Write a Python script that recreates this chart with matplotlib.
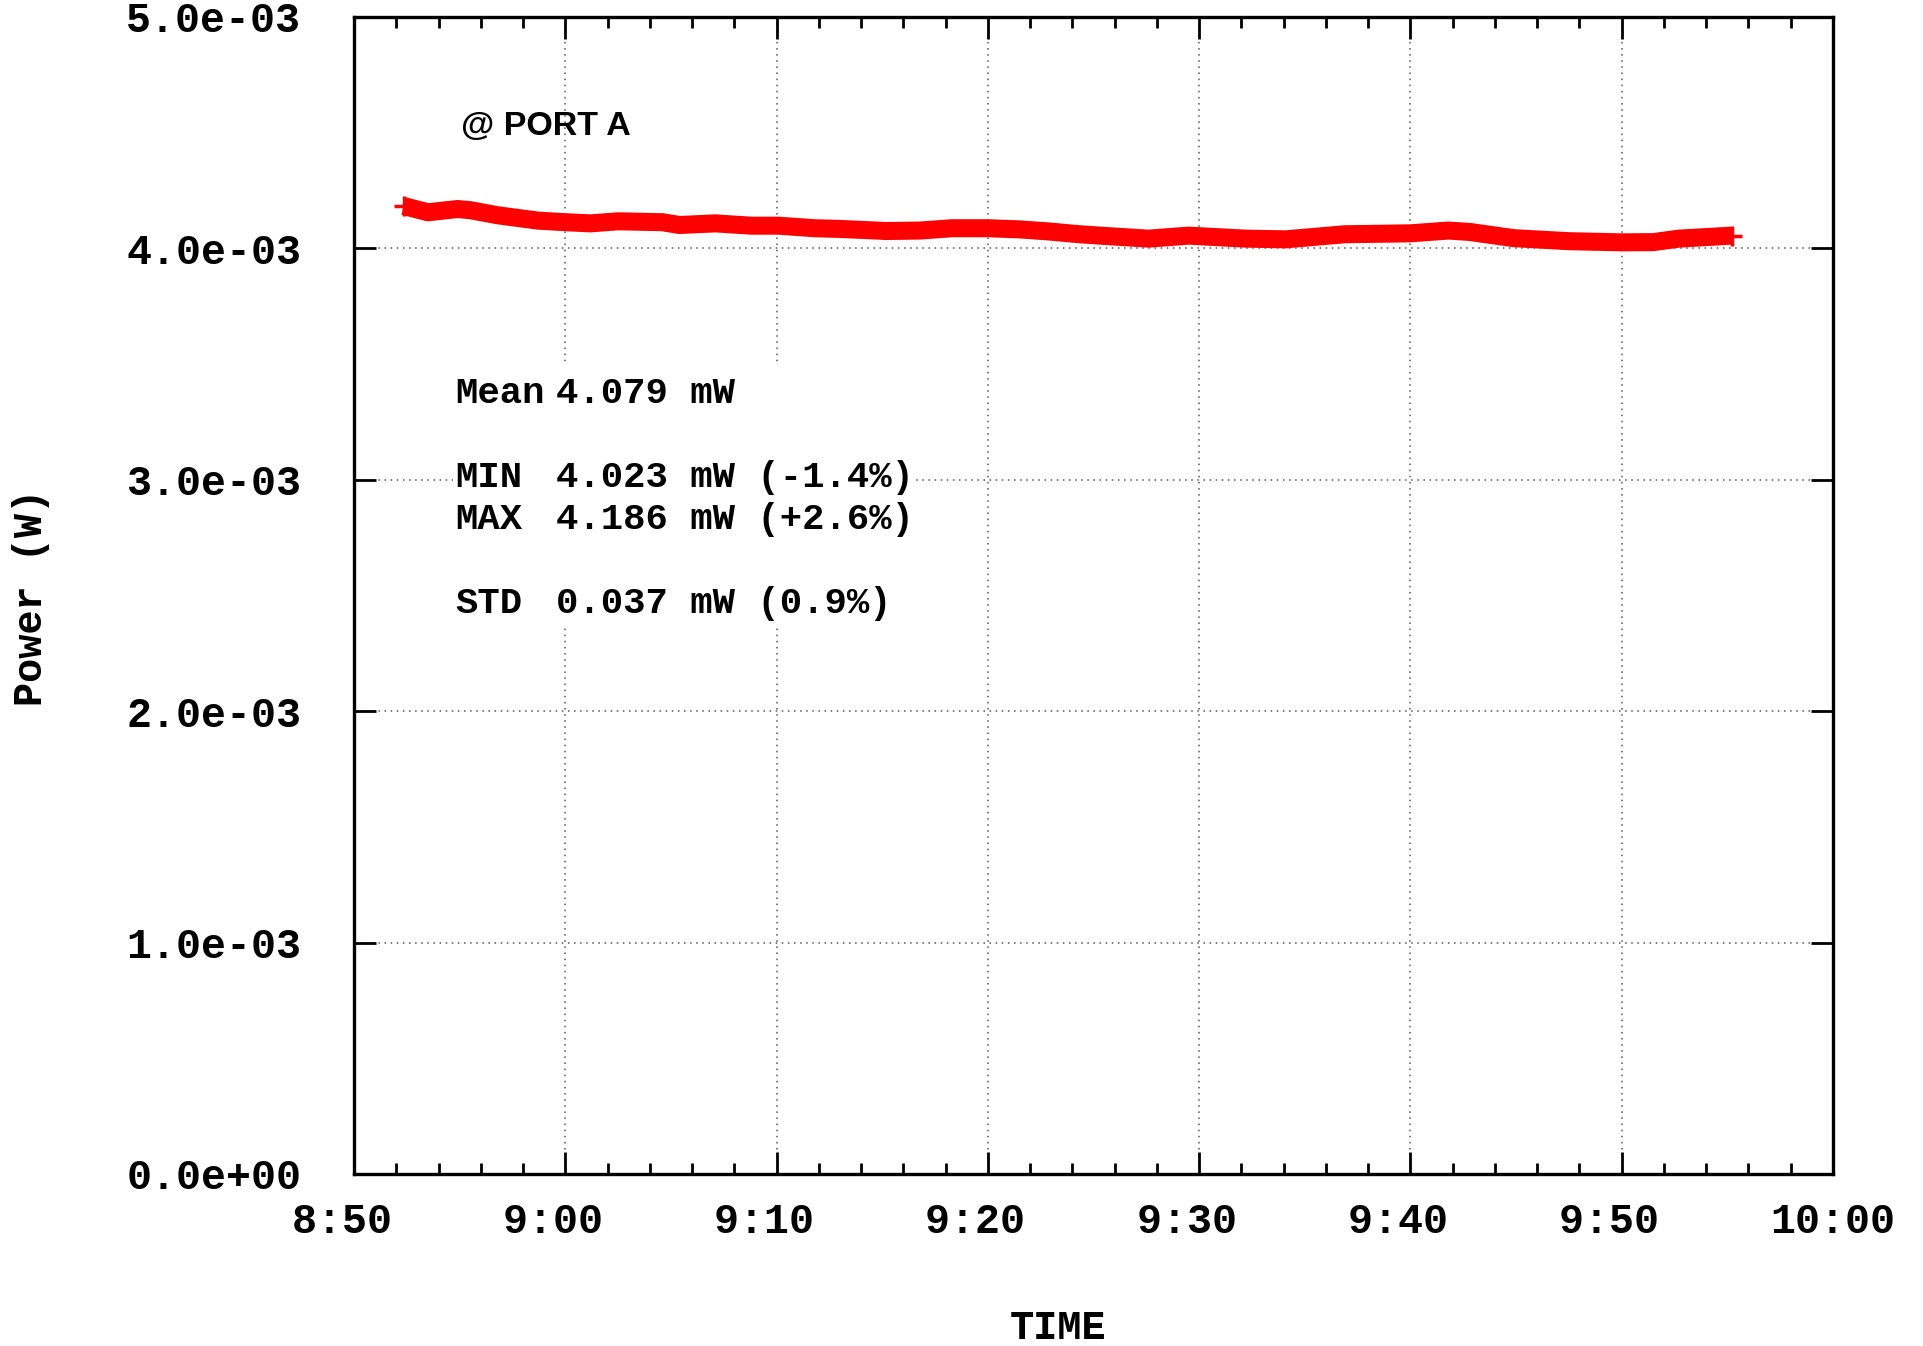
import matplotlib
matplotlib.use("Agg")
import matplotlib.pyplot as plt
from matplotlib.ticker import MultipleLocator, FuncFormatter
from matplotlib.patches import Rectangle

# minutes after midnight, power in mW
t_min = [532.35, 533.5, 534.9, 535.5, 536.8, 538.7, 540.0, 541.2, 542.5, 544.6,
         545.4, 547.1, 548.8, 550.1, 551.8, 553.0, 555.2, 556.8, 558.3, 560.0,
         561.5, 562.9, 564.2, 565.3, 567.6, 569.5, 572.2, 574.1, 576.9, 580.0,
         581.8, 582.8, 584.9, 587.5, 590.0, 591.5, 592.7, 595.2]
power_mw = [4.183, 4.156, 4.170, 4.165, 4.143, 4.120, 4.113, 4.108, 4.117, 4.113,
            4.101, 4.108, 4.098, 4.098, 4.087, 4.084, 4.075, 4.077, 4.087, 4.087,
            4.082, 4.073, 4.062, 4.055, 4.042, 4.055, 4.042, 4.039, 4.061, 4.065,
            4.077, 4.071, 4.044, 4.031, 4.026, 4.027, 4.042, 4.055]

stat_names = "Mean\n\nMIN\nMAX\n\nSTD"
stat_values = "4.079 mW\n\n4.023 mW (-1.4%)\n4.186 mW (+2.6%)\n\n0.037 mW (0.9%)"
port_label = "@ PORT A"

mono = "Liberation Mono"

fig = plt.figure(figsize=(19.23, 13.46), dpi=100)
ax = fig.add_axes([0.1841, 0.1278, 0.7691, 0.8596])
ax.set_axisbelow(True)

ax.plot(t_min, [p * 1e-3 for p in power_mw], color="#ff0000", lw=13,
        solid_capstyle="butt", solid_joinstyle="round",
        marker="+", markevery=[0, len(t_min) - 1], ms=14, mew=2.5, zorder=3)

ax.set_xlim(530, 600)
ax.set_ylim(0, 5e-3)
ax.xaxis.set_major_locator(MultipleLocator(10))
ax.xaxis.set_minor_locator(MultipleLocator(2))
ax.yaxis.set_major_locator(MultipleLocator(1e-3))
# labels padded to 5 characters like the original time format
ax.xaxis.set_major_formatter(FuncFormatter(
    lambda v, p: "%-5s" % ("%d:%02d" % (int(v) // 60, int(v) % 60))))
ax.yaxis.set_major_formatter(FuncFormatter(lambda v, p: "%.1e" % v))

ax.tick_params(which="both", direction="in", top=True, right=True, width=2, color="black")
ax.tick_params(which="major", length=16)
ax.tick_params(which="minor", length=8)
ax.tick_params(axis="y", pad=38)
ax.tick_params(axis="x", pad=20)
for lab in ax.get_xticklabels() + ax.get_yticklabels():
    lab.set_fontfamily(mono)
    lab.set_fontweight("bold")
    lab.set_fontsize(30)
for s in ax.spines.values():
    s.set_linewidth(2.4)

ax.grid(True, which="major", color="#555555", lw=1.1, linestyle=(0, (1, 3)))

# white area behind the statistics block
ax.add_patch(Rectangle((0.0669, 0.4728), 0.3124, 0.2262, transform=ax.transAxes,
                       facecolor="white", edgecolor="none", zorder=1))

ax.text(0.0683, 0.690, stat_names, transform=ax.transAxes, ha="left", va="top",
        family=mono, weight="bold", fontsize=26.8, linespacing=1.26, zorder=4)
ax.text(0.1365, 0.690, stat_values, transform=ax.transAxes, ha="left", va="top",
        family=mono, weight="bold", fontsize=26.8, linespacing=1.26, zorder=4)
ax.text(0.0724, 0.905, port_label, transform=ax.transAxes, ha="left", va="center",
        family="Liberation Sans", weight="bold", fontsize=24.5, zorder=4)

fig.text(0.550, 0.0134, "TIME", ha="center", va="center", family=mono,
         weight="bold", fontsize=29)
fig.text(0.0161, 0.556, "Power (W)", ha="center", va="center", rotation=90,
         family=mono, weight="bold", fontsize=29)

fig.savefig("out.png", dpi=100)
